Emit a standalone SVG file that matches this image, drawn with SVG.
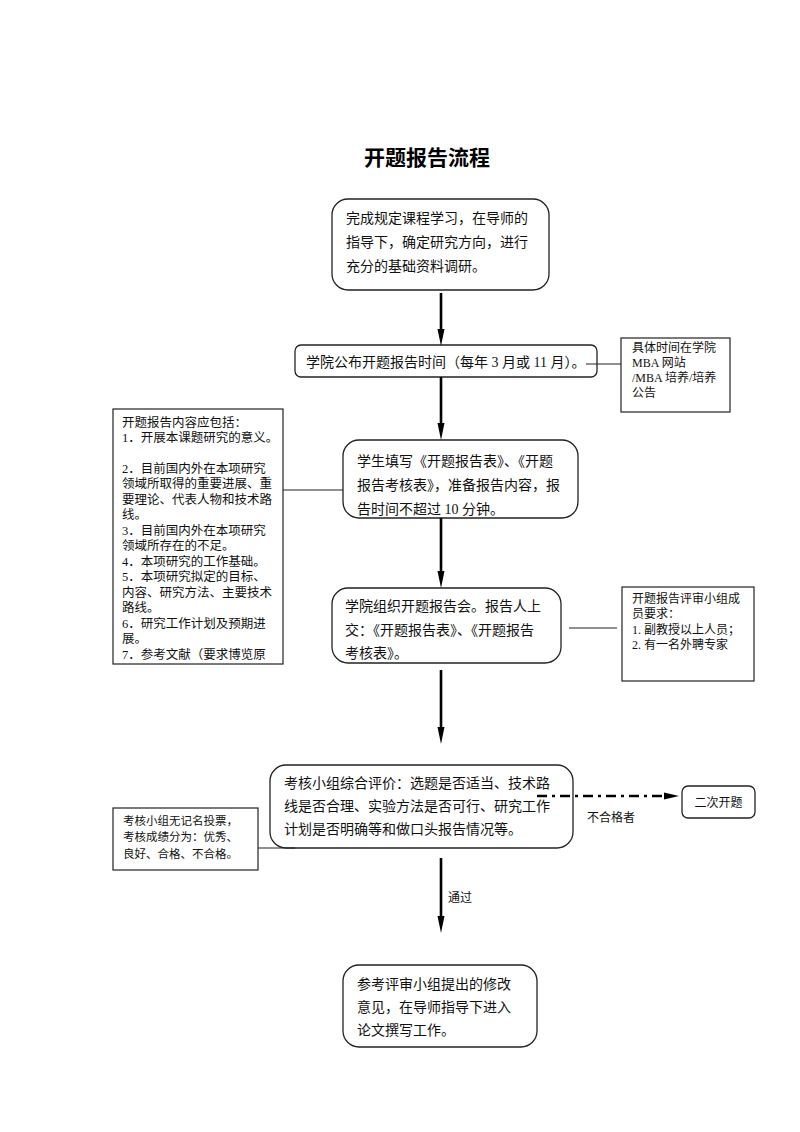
<svg xmlns="http://www.w3.org/2000/svg" width="800" height="1132" viewBox="0 0 800 1132">
<style>
.bg{fill:#fff}
.rb{fill:#fff;stroke:#222;stroke-width:1.3}
.sb{fill:#fff;stroke:#222;stroke-width:1.2}
.t{font-family:"Liberation Serif","Noto Sans CJK SC",serif;fill:#111}
.m{font-size:14px}
.s{font-size:12px}
.xs{font-size:11.5px}
.l{font-size:12.5px}
.title{font-family:"Liberation Sans","Noto Sans CJK SC",sans-serif;font-size:21px;font-weight:bold;fill:#000}
.ln{stroke:#222;stroke-width:1.2;fill:none}
.shaft{stroke:#000;stroke-width:2.6}
.head{fill:#000}
</style>
<rect class="bg" x="0" y="0" width="800" height="1132"/>
<text class="title" x="427" y="165" text-anchor="middle">开题报告流程</text>

<g id="n1">
<rect class="rb" x="332" y="199" width="217" height="91" rx="16"/>
<text class="t m" x="346" y="223">完成规定课程学习，在导师的</text>
<text class="t m" x="346" y="247">指导下，确定研究方向，进行</text>
<text class="t m" x="346" y="271">充分的基础资料调研。</text>
</g>

<g id="n2">
<rect class="rb" x="295" y="345" width="302" height="32" rx="6"/>
<text class="t m" x="306" y="367">学院公布开题报告时间（每年 3 月或 11 月）。</text>
</g>

<g id="r1">
<rect class="sb" x="621" y="338" width="109" height="74"/>
<text class="t s" x="632" y="352">具体时间在学院</text>
<text class="t s" x="632" y="367">MBA 网站</text>
<text class="t s" x="632" y="382">/MBA 培养/培养</text>
<text class="t s" x="632" y="397">公告</text>
</g>

<g id="l1">
<rect class="sb" x="113" y="409" width="170" height="255"/>
<text class="t l" x="122" y="427">开题报告内容应包括：</text>
<text class="t l" x="122" y="442">1．开展本课题研究的意义。</text>
<text class="t l" x="122" y="473">2．目前国内外在本项研究</text>
<text class="t l" x="122" y="488">领域所取得的重要进展、重</text>
<text class="t l" x="122" y="504">要理论、代表人物和技术路</text>
<text class="t l" x="122" y="519">线。</text>
<text class="t l" x="122" y="535">3．目前国内外在本项研究</text>
<text class="t l" x="122" y="550">领域所存在的不足。</text>
<text class="t l" x="122" y="566">4．本项研究的工作基础。</text>
<text class="t l" x="122" y="581">5．本项研究拟定的目标、</text>
<text class="t l" x="122" y="597">内容、研究方法、主要技术</text>
<text class="t l" x="122" y="612">路线。</text>
<text class="t l" x="122" y="628">6．研究工作计划及预期进</text>
<text class="t l" x="122" y="643">展。</text>
<text class="t l" x="122" y="659">7．参考文献（要求博览原</text>
</g>

<g id="n3">
<rect class="rb" x="343" y="440" width="235" height="78" rx="16"/>
<text class="t m" x="357" y="466">学生填写《开题报告表》、《开题</text>
<text class="t m" x="357" y="490">报告考核表》，准备报告内容，报</text>
<text class="t m" x="357" y="514">告时间不超过 10 分钟。</text>
</g>

<g id="n4">
<rect class="rb" x="332" y="588" width="229" height="75" rx="16"/>
<text class="t m" x="345" y="611">学院组织开题报告会。报告人上</text>
<text class="t m" x="345" y="635">交：《开题报告表》、《开题报告</text>
<text class="t m" x="345" y="658">考核表》。</text>
</g>

<g id="r2">
<rect class="sb" x="622" y="587" width="132" height="94"/>
<text class="t s" x="632" y="603">开题报告评审小组成</text>
<text class="t s" x="632" y="618">员要求：</text>
<text class="t s" x="632" y="634">1. 副教授以上人员；</text>
<text class="t s" x="632" y="649">2. 有一名外聘专家</text>
</g>

<g id="n5">
<rect class="rb" x="270" y="765" width="303" height="83" rx="16"/>
<text class="t m" x="284" y="788">考核小组综合评价：选题是否适当、技术路</text>
<text class="t m" x="284" y="811">线是否合理、实验方法是否可行、研究工作</text>
<text class="t m" x="284" y="834">计划是否明确等和做口头报告情况等。</text>
</g>

<g id="l3">
<rect class="sb" x="113" y="808" width="145" height="62"/>
<text class="t xs" x="123" y="825">考核小组无记名投票，</text>
<text class="t xs" x="123" y="841">考核成绩分为：优秀、</text>
<text class="t xs" x="123" y="858">良好、合格、不合格。</text>
</g>

<g id="r3">
<rect class="rb" x="682" y="786" width="73" height="32" rx="6"/>
<text class="t s" x="718.5" y="807" text-anchor="middle">二次开题</text>
</g>

<g id="n6">
<rect class="rb" x="343" y="965" width="194" height="82" rx="16"/>
<text class="t m" x="357" y="989">参考评审小组提出的修改</text>
<text class="t m" x="357" y="1012">意见，在导师指导下进入</text>
<text class="t m" x="357" y="1035">论文撰写工作。</text>
</g>

<g id="connectors">
<line class="shaft" x1="441" y1="293" x2="441" y2="336"/>
<path class="head" d="M437.5,329 L444.5,329 L441,346 Z"/>
<line class="shaft" x1="441" y1="377" x2="441" y2="430"/>
<path class="head" d="M437.5,423 L444.5,423 L441,440 Z"/>
<line class="shaft" x1="441" y1="518" x2="441" y2="578"/>
<path class="head" d="M437.5,571 L444.5,571 L441,588 Z"/>
<line class="shaft" x1="441" y1="670" x2="441" y2="734"/>
<path class="head" d="M437.5,727 L444.5,727 L441,744 Z"/>
<line class="shaft" x1="441" y1="858" x2="441" y2="923"/>
<path class="head" d="M437.5,916 L444.5,916 L441,933 Z"/>
<line class="ln" x1="586" y1="364" x2="621" y2="364"/>
<line class="ln" x1="283" y1="490" x2="343" y2="490"/>
<line class="ln" x1="569" y1="628" x2="617" y2="628"/>
<line class="ln" x1="258" y1="848" x2="295" y2="848" stroke-width="1.5"/>
<line x1="537" y1="796" x2="666" y2="796" stroke="#000" stroke-width="2.4" stroke-dasharray="10 5 3 5"/>
<path class="head" d="M664,792.5 L679,796 L664,799.5 Z"/>
<text class="t s" x="587" y="822">不合格者</text>
<text class="t s" x="448" y="902">通过</text>
</g>
</svg>
